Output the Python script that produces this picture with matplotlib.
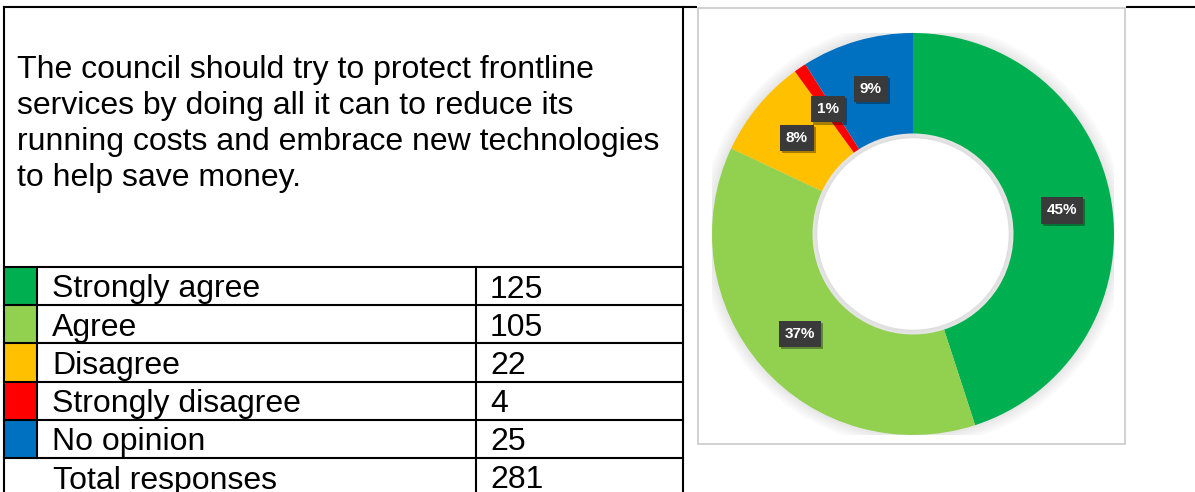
import matplotlib.pyplot as plt
from matplotlib.patches import Rectangle
from matplotlib import patheffects as pe

plt.rcParams['font.family'] = ['Liberation Sans', 'DejaVu Sans']

question = ["The council should try to protect frontline",
            "services by doing all it can to reduce its",
            "running costs and embrace new technologies",
            "to help save money."]
categories = ['Strongly agree', 'Agree', 'Disagree', 'Strongly disagree', 'No opinion']
counts = [125, 105, 22, 4, 25]
total_label = 'Total responses'
total = 281
colors = ['#00B050', '#92D050', '#FFC000', '#FF0000', '#0070C0']
# shares as printed on the doughnut
pct = [45, 37, 8, 1, 9]

W, H = 1195, 492
fig = plt.figure(figsize=(W / 100, H / 100), dpi=100)
ax = fig.add_axes([0, 0, 1, 1])
ax.set_xlim(0, W)
ax.set_ylim(H, 0)
ax.axis('off')

lw = 1.5
fs = 23
left, mid = 4, 683
col_sw, col_val = 37, 476
row_top, row_h = 267, 38.2

# outer borders
ax.plot([left, 697], [7, 7], color='k', lw=lw)
ax.plot([1126, W], [7, 7], color='k', lw=lw)
ax.plot([left, left], [7, H], color='k', lw=lw)
ax.plot([mid, mid], [7, H], color='k', lw=lw)

for i, line in enumerate(question):
    ax.text(17, 78 + 36 * i, line, fontsize=fs, va='baseline', ha='left')

# response table
rows = len(categories)
for i, (cat, n, c) in enumerate(zip(categories, counts, colors)):
    y0 = row_top + i * row_h
    ax.add_patch(Rectangle((left, y0), col_sw - left, row_h, color=c, lw=0))
    ax.text(52, y0 + 30.5, cat, fontsize=fs, va='baseline')
    ax.text(490, y0 + 30.5, str(n), fontsize=fs, va='baseline')
y0 = row_top + rows * row_h
ax.text(53, y0 + 30.5, total_label, fontsize=fs, va='baseline')
ax.text(490, y0 + 30.5, str(total), fontsize=fs, va='baseline')

for i in range(rows + 1):
    y = row_top + i * row_h
    ax.plot([left, mid], [y, y], color='k', lw=lw)
ax.plot([col_sw, col_sw], [row_top, row_top + rows * row_h], color='k', lw=lw)
ax.plot([col_val, col_val], [row_top, H], color='k', lw=lw)

# chart frame
ax.add_patch(Rectangle((697, 4), 1126 - 697, 440, fc='white', ec='none', zorder=3))
ax.add_patch(Rectangle((698, 8), 1125 - 698, 436, fc='none', ec='#c9c9c9',
                       lw=1.2, zorder=4))

# doughnut
cx, cy, r = 913, 234, 201
dax = fig.add_axes([(cx - r) / W, (H - cy - r) / H, 2 * r / W, 2 * r / H])
dax.set_zorder(5)
for k in range(6):
    dax.add_patch(plt.Circle((0, 0), 1.0 + 0.01 * (k + 1), color='#808080',
                             alpha=0.03, lw=0))
wedges, _, autotexts = dax.pie(
    pct, colors=colors, startangle=90, counterclock=False, radius=1.0,
    wedgeprops=dict(width=0.5, lw=0), autopct='%.0f%%', pctdistance=0.75,
    textprops=dict(color='white', fontsize=11, fontweight='bold'))
# faint shading just inside the hole
for k in range(4):
    dax.add_patch(plt.Circle((0, 0), 0.5 - 0.006 * k, fc='#b0b0b0',
                             alpha=0.035, lw=0, zorder=3))
dax.add_patch(plt.Circle((0, 0), 0.5 - 0.024, fc='white', lw=0, zorder=3))
for t in autotexts:
    t.set_bbox(dict(boxstyle='square,pad=0.4', fc='#3a3a3a', ec='none'))
    t.get_bbox_patch().set_path_effects(
        [pe.SimplePatchShadow(offset=(1.5, -1.5), shadow_rgbFace='k', alpha=0.35),
         pe.Normal()])
    t.set_zorder(6)
dax.set_xlim(-1, 1)
dax.set_ylim(-1, 1)
dax.axis('off')

fig.savefig('out.png', dpi=100)
